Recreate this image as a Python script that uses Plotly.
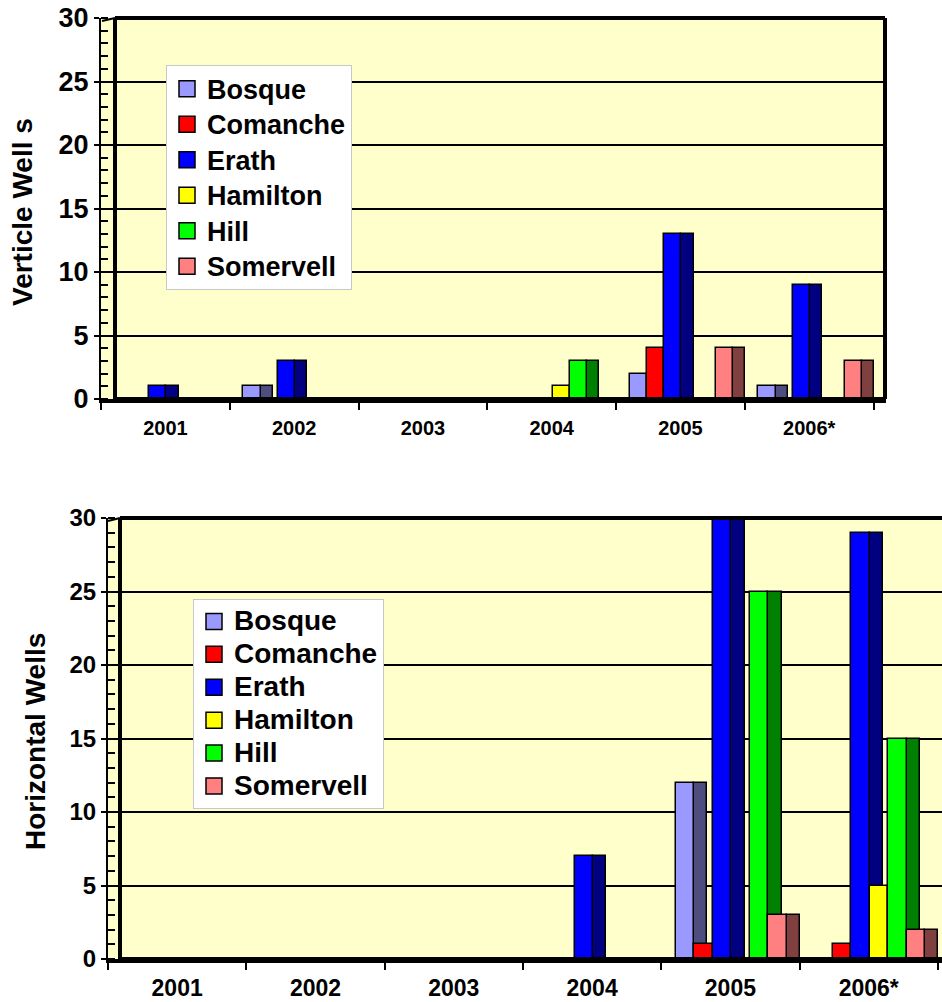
import plotly.graph_objects as go

# Categories and series
years = ["2001", "2002", "2003", "2004", "2005", "2006*"]
counties = ["Bosque", "Comanche", "Erath", "Hamilton", "Hill", "Somervell"]

# Vertical well counts per county
vert_bosque = [0, 1, 0, 0, 2, 1]
vert_comanche = [0, 0, 0, 0, 4, 0]
vert_erath = [1, 3, 0, 0, 13, 9]
vert_hamilton = [0, 0, 0, 1, 0, 0]
vert_hill = [0, 0, 0, 3, 0, 0]
vert_somervell = [0, 0, 0, 0, 4, 3]

# Horizontal well counts per county
horiz_bosque = [0, 0, 0, 0, 12, 0]
horiz_comanche = [0, 0, 0, 0, 1, 1]
horiz_erath = [0, 0, 0, 7, 30, 29]
horiz_hamilton = [0, 0, 0, 0, 0, 5]
horiz_hill = [0, 0, 0, 0, 25, 15]
horiz_somervell = [0, 0, 0, 0, 3, 2]

y_ticks = [0, 5, 10, 15, 20, 25, 30]

# Face colours (front, shaded side) per county
front_colors = ["#9999FF", "#FF0000", "#0000FF", "#FFFF00", "#00FF00", "#FF8080"]
side_colors = ["#4D4D80", "#800000", "#000080", "#808000", "#008000", "#804040"]

W, H = 942, 1002
FONT = "Liberation Sans, Arial, sans-serif"
SLOT = 0.134      # width of one bar face, in category units
SIDE = 0.095      # depth of the shaded side face
GROUP_LEFT = -0.395


def px(x):
    return x / W


def py(y):
    return 1 - y / H


fig = go.Figure()


def add_group(series_list, xaxis, yaxis, legend, label_size):
    for i, (name, vals) in enumerate(zip(counties, series_list)):
        # shaded side face sits just right of the front face
        fig.add_trace(go.Bar(
            x=years, y=vals, xaxis=xaxis, yaxis=yaxis,
            offset=GROUP_LEFT + (i + 1) * SLOT, width=SIDE,
            marker=dict(color=side_colors[i], line=dict(color="black", width=1.5)),
            showlegend=False, hoverinfo="skip",
        ))
        fig.add_trace(go.Bar(
            x=years, y=vals, xaxis=xaxis, yaxis=yaxis, name=name,
            offset=GROUP_LEFT + i * SLOT, width=SLOT,
            marker=dict(color=front_colors[i], line=dict(color="black", width=1.5)),
            showlegend=False,
        ))
    # legend entries with larger square swatches
    for i, name in enumerate(counties):
        fig.add_trace(go.Scatter(
            x=[None], y=[None], xaxis=xaxis, yaxis=yaxis, mode="markers",
            name=f'<span style="font-size:{label_size}px">{name}</span>', legend=legend,
            marker=dict(symbol="square", size=16, color=front_colors[i],
                        line=dict(color="black", width=1.5)),
        ))


add_group([vert_bosque, vert_comanche, vert_erath, vert_hamilton, vert_hill, vert_somervell],
          "x", "y", "legend", 27)
add_group([horiz_bosque, horiz_comanche, horiz_erath, horiz_hamilton, horiz_hill, horiz_somervell],
          "x2", "y2", "legend2", 28)


def yaxis_style(domain, size, anchor, minor_len):
    return dict(
        domain=domain, anchor=anchor, range=[0, 30], tickvals=y_ticks,
        showgrid=True, gridcolor="black", gridwidth=1.8, zeroline=False,
        showline=True, linecolor="black", linewidth=2,
        ticks="outside", ticklen=5, tickwidth=2, tickcolor="black",
        minor=dict(dtick=1, ticks="inside", ticklen=minor_len, tickwidth=1.5,
                   tickcolor="black", showgrid=False),
        tickfont=dict(family=FONT, size=size, color="black", weight="bold"),
        automargin=False, fixedrange=True,
    )


def xaxis_style(domain, rng, size, anchor, standoff):
    return dict(
        domain=domain, anchor=anchor, type="category", categoryorder="array",
        categoryarray=years, range=rng, showgrid=False, zeroline=False,
        showline=True, linecolor="black", linewidth=4,
        ticks="outside", tickson="boundaries", ticklen=7, tickwidth=2, tickcolor="black",
        tickfont=dict(family=FONT, size=size, color="black", weight="bold"),
        ticklabelstandoff=standoff, automargin=False, fixedrange=True,
    )


# Top panel: vertical wells
top_x0, top_x1, top_y0, top_y1 = 101, 885.5, 399, 18
# Bottom panel: horizontal wells
bot_x0, bot_y0, bot_y1 = 108, 959, 518

fig.update_layout(
    template="none",
    xaxis=xaxis_style([px(top_x0), px(top_x1)], [-0.5, 5.593], 20, "y", 8),
    yaxis=yaxis_style([py(top_y0), py(top_y1)], 27, "x", 7),
    xaxis2=xaxis_style([px(bot_x0), 1.0], [-0.5, 5.53], 23, "y2", 5),
    yaxis2=yaxis_style([py(bot_y0), py(bot_y1)], 24, "x2", 7),
)

# back wall and frame edges
frame = [
    (115, 18, 885, 18, 4), (885, 18, 885, 399, 4), (115, 18, 115, 399, 4),
    (102, 21, 115, 18, 2), (115, 399, 885, 399, 4),
    (120, 518, 942, 518, 4), (120, 518, 120, 959, 4), (108, 521, 120, 518, 2),
    (120, 959, 942, 959, 4),
]
shapes = []
for x0, y0, x1, y1, w in frame:
    shapes.append(dict(type="line", xref="paper", yref="paper",
                       x0=px(x0), y0=py(y0), x1=px(x1), y1=py(y1),
                       line=dict(color="black", width=w), layer="above"))

annotations = [
    dict(text="Verticle Well s", x=px(22), y=py(212), xref="paper", yref="paper",
         textangle=-90, showarrow=False, xanchor="center", yanchor="middle",
         font=dict(family=FONT, size=28, color="black", weight="bold")),
    dict(text="Horizontal Wells", x=px(35), y=py(742), xref="paper", yref="paper",
         textangle=-90, showarrow=False, xanchor="center", yanchor="middle",
         font=dict(family=FONT, size=28, color="black", weight="bold")),
]

fig.update_layout(
    width=W, height=H, autosize=False,
    margin=dict(l=0, r=0, t=0, b=0, pad=0),
    paper_bgcolor="white", plot_bgcolor="#FFFFCC",
    barmode="overlay", bargap=0, hovermode="closest",
    shapes=shapes, annotations=annotations,
    legend=dict(x=px(166), y=py(65), xanchor="left", yanchor="top",
                bgcolor="white", bordercolor="#C8C8C8", borderwidth=1,
                font=dict(family=FONT, size=25, color="black", weight="bold"),
                itemclick=False, itemdoubleclick=False),
    legend2=dict(x=px(193), y=py(599), xanchor="left", yanchor="top",
                 bgcolor="white", bordercolor="#C8C8C8", borderwidth=1,
                 font=dict(family=FONT, size=23, color="black", weight="bold"),
                 itemclick=False, itemdoubleclick=False),
)

fig.write_html("out.html", config={"displayModeBar": False})
